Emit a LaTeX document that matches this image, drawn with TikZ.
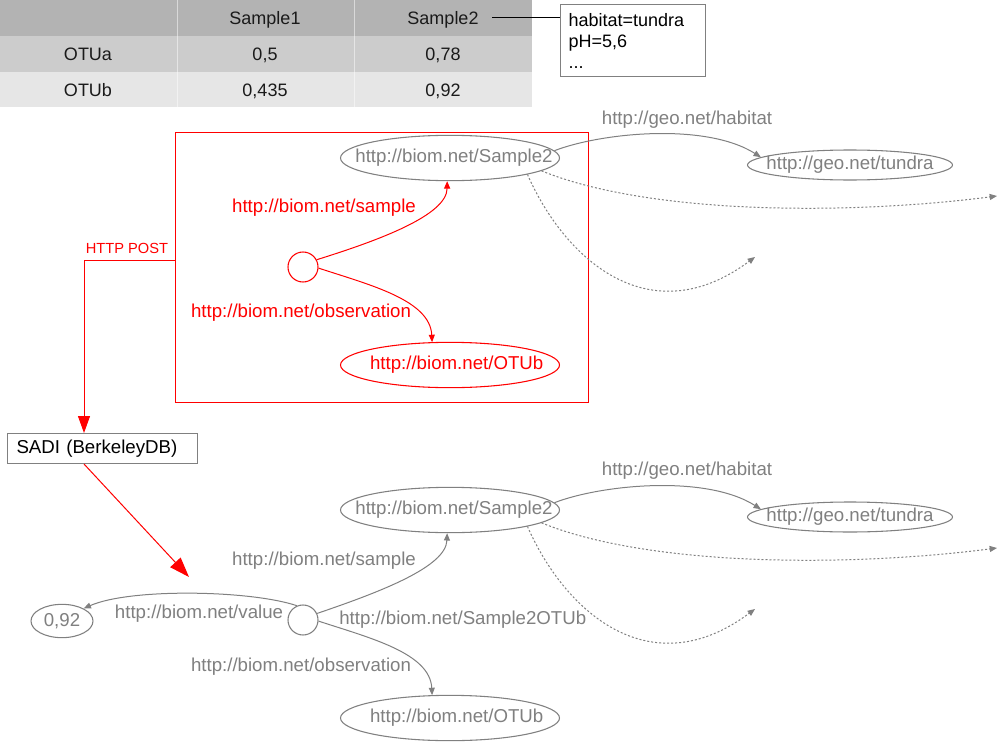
\documentclass[tikz,border=0pt]{standalone}
\usepackage{fontspec}
\setmainfont{Liberation Sans}
\usetikzlibrary{shapes.geometric,arrows.meta,calc}
\definecolor{gr}{HTML}{808080}
\definecolor{rd}{HTML}{FF0000}
\definecolor{hdr}{HTML}{B3B3B3}
\definecolor{rowa}{HTML}{CCCCCC}
\definecolor{rowb}{HTML}{E6E6E6}
\definecolor{txt}{HTML}{1A1A1A}
\begin{document}
\begin{tikzpicture}[x=0.75pt,y=-0.75pt,
  lbl/.style={font=\fontsize{14}{16}\selectfont, text=gr, inner sep=0},
  rlbl/.style={lbl, text=rd},
  ell/.style={ellipse, draw=gr, line width=0.8pt, text=gr, font=\fontsize{14}{16}\selectfont, inner sep=0, minimum width=164.25pt, minimum height=34pt},
  tund/.style={ell, minimum width=153.75pt, minimum height=22.5pt},
  valell/.style={ell, minimum width=46.5pt, minimum height=25pt},
  bnode/.style={circle, draw=gr, line width=0.8pt, minimum size=22.5pt, inner sep=0},
  garrow/.style={draw=gr, line width=0.75pt, -{Triangle[length=5.5pt,width=4.5pt]}},
  rarrow/.style={garrow, draw=rd, -{Triangle[length=5.5pt,width=4.5pt,fill=rd]}},
  dots/.style={garrow, dash pattern=on 1.5pt off 1.5pt},
  cell/.style={font=\fontsize{13.5}{16}\selectfont, text=txt, inner sep=0, anchor=base},
]
\useasboundingbox (0,0) rectangle (999,742);
\fill[white] (0,0) rectangle (999,742);

% ---------- table ----------
\fill[hdr] (0,0) rectangle (532,36);
\fill[rowa] (0,36) rectangle (532,72);
\fill[rowb] (0,72) rectangle (532,107);
\draw[white, opacity=0.5, line width=0.75pt] (177,0) -- (177,107) (354,0) -- (354,107);
\node[cell] (h1) at (265,24.5) {Sample1};
\node[cell] (h2) at (443,24.5) {Sample2};
\node[cell] (ra) at (88,60.5) {OTUa};
\node[cell] (a1) at (265,60.5) {0,5};
\node[cell] (a2) at (443,60.5) {0,78};
\node[cell] (rb) at (88,96) {OTUb};
\node[cell] (b1) at (265,96) {0,435};
\node[cell] (b2) at (443,96) {0,92};

\node[draw=gr, line width=0.75pt, anchor=north west, minimum width=108.75pt,
      minimum height=54pt, text width=96.75pt, align=left, inner xsep=6pt, inner ysep=0,
      font=\fontsize{13.5}{15.75}\selectfont, text=black] (meta) at (560,4)
      {habitat=tundra\\pH=5,6\\...};
\coordinate (lstart) at (492,18);
\draw[black, line width=0.75pt] (lstart) -- (meta.west |- lstart);

% ---------- red box and POST ----------
\node[draw=rd, line width=0.6pt, minimum width=309.75pt, minimum height=202.5pt, inner sep=0] (post) at (381.5,267) {};
\node[draw=gr, line width=0.75pt, anchor=west, minimum height=22.5pt, text width=129pt,
      inner xsep=6.75pt, align=left, font=\fontsize{14}{16}\selectfont] (sadi) at (7,448.5) {SADI (BerkeleyDB)};
\coordinate (bend) at (84,260);
\node[text=rd, font=\fontsize{11}{13}\selectfont, inner sep=0] (httplbl) at (127,248) {HTTP POST};
\draw[rd, line width=0.75pt, -{Triangle[length=12.75pt,width=9pt]}] (post.west |- bend) -- (bend) -- (bend |- sadi.north);
\coordinate (tip) at (189,577);
\draw[rd, line width=0.75pt, -{Triangle[length=15pt,width=10.5pt]}] (bend |- sadi.south) -- (tip);

% ---------- top graph ----------
\node[ell] (s2a) at (450,158) {\makebox[0pt]{\kern6pt http://biom.net/Sample2}};
\node[ell, draw=rd, text=rd] (oa) at (450,365) {\makebox[0pt]{\kern10pt http://biom.net/OTUb}};
\node[bnode, draw=rd] (ca) at (303,267) {};
\node[tund] (ta) at (850,165) {\makebox[0pt]{http://geo.net/tundra}};
\coordinate (d1a) at (997,196);
\coordinate (d2a) at (755,257);
\node[rlbl] (lsa) at (324,208) {http://biom.net/sample};
\node[rlbl] (loa) at (301,313) {http://biom.net/observation};
\node[lbl] (lha) at (687,120) {http://geo.net/habitat};
\draw[rarrow] (ca.28) .. controls (380,240) and (447,215) .. (s2a.263);
\draw[rarrow] (ca.356) .. controls (370,285) and (430,300) .. (oa.128);
\draw[garrow] (s2a.4.5) .. controls (600,133) and (705,122) .. (ta.175);
\draw[dots] (s2a.352) .. controls (650,215) and (850,215) .. (d1a);
\draw[dots] (s2a.348) .. controls (565,260) and (650,335) .. (d2a);

% ---------- bottom graph ----------
\begin{scope}[shift={(0,352)}]
\node[ell] (s2b) at (450,158) {\makebox[0pt]{\kern6pt http://biom.net/Sample2}};
\node[ell] (ob) at (450,366) {\makebox[0pt]{\kern10pt http://biom.net/OTUb}};
\node[bnode] (cb) at (303,268) {};
\node[tund] (tb) at (850,165) {\makebox[0pt]{http://geo.net/tundra}};
\node[valell] (vb) at (62,269) {\makebox[0pt]{0,92}};
\coordinate (d1b) at (997,196);
\coordinate (d2b) at (755,257);
\node[lbl] (lsb) at (324,209) {http://biom.net/sample};
\node[lbl] (lob) at (301,315) {http://biom.net/observation};
\node[lbl] (lhb) at (687,119) {http://geo.net/habitat};
\node[lbl] (lvb) at (199,262) {http://biom.net/value};
\node[lbl, anchor=west] (lnb) at (339,268) {http://biom.net/Sample2OTUb};
\draw[garrow] (cb.25) .. controls (380,240) and (446,215) .. (s2b.263);
\draw[garrow] (cb.356) .. controls (370,286) and (430,301) .. (ob.128);
\draw[garrow] (cb.113) .. controls (250,238) and (130,236) .. (vb.30);
\draw[garrow] (s2b.4.5) .. controls (600,133) and (705,122) .. (tb.175);
\draw[dots] (s2b.352) .. controls (650,215) and (850,215) .. (d1b);
\draw[dots] (s2b.348) .. controls (565,260) and (650,335) .. (d2b);
\end{scope}
\end{tikzpicture}
\end{document}
